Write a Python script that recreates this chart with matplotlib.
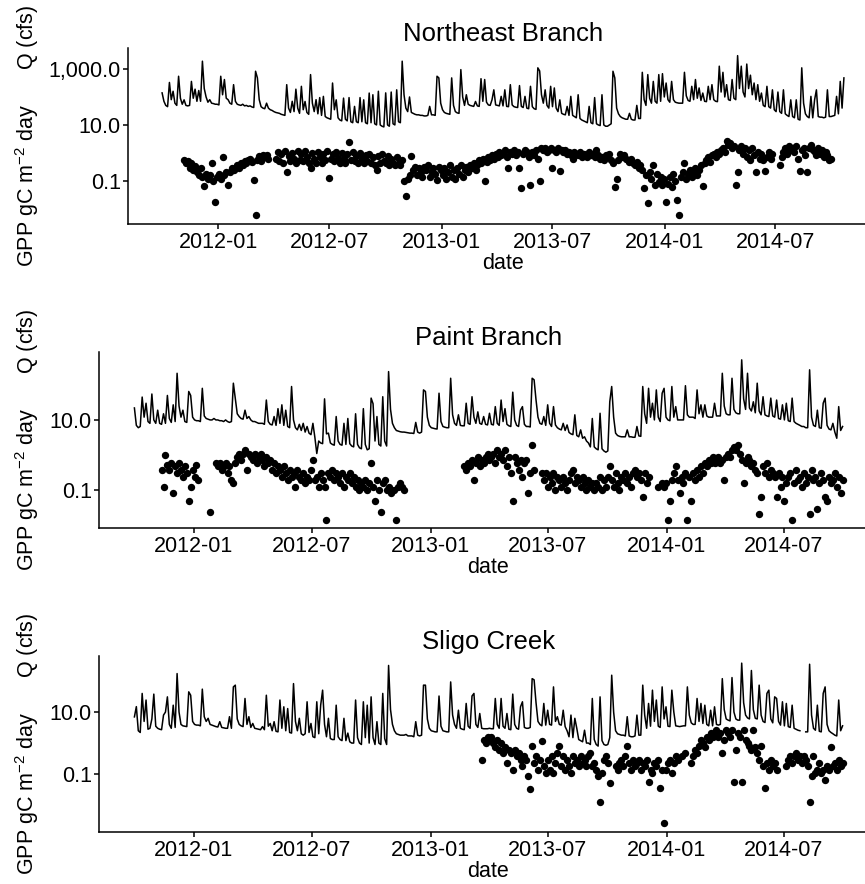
import numpy as np
import pandas as pd
import matplotlib
matplotlib.use("Agg")
import matplotlib.pyplot as plt
import matplotlib.dates as mdates
from matplotlib.ticker import NullLocator

nan = np.nan

# series start and sampling step (values read every 3 days off the figure)
start = "2011-10-01"
step = "3D"

sites = ["Northeast Branch", "Paint Branch", "Sligo Creek"]

# discharge, cfs
ne_q = [
    140, 70, 50, 45, 330, 80, 160, 60, 50, 550,
    90, 55, 79, 50, 48, 50, 360, 90, 190, 70,
    170, 70, 1900, 200, 100, 65, 80, 60, 58, 55,
    55, 52, 550, 120, 420, 90, 80, 60, 55, 275,
    70, 55, 52, 50, 55, 48, 50, 46, 48, 44,
    42, 830, 480, 80, 45, 40, 38, 60, 40, 35,
    33, 30, 28, 27, 26, 24, 23, 22, 275, 40,
    28, 70, 30, 190, 40, 26, 240, 35, 69, 28,
    24, 630, 60, 30, 80, 25, 95, 22, 105, 20,
    18, 17, 16, 315, 35, 79, 18, 15, 14, 91,
    16, 14, 95, 13, 12, 46, 13, 12, 95, 13,
    79, 12, 11, 138, 12, 120, 11, 10, 160, 10,
    9, 8.5, 140, 10, 9, 150, 11, 10, 180, 13,
    12, 1900, 120, 40, 30, 100, 28, 26, 24, 23,
    23, 22, 22, 21, 21, 22, 46, 23, 23, 22,
    550, 480, 60, 35, 28, 26, 25, 24, 480, 50,
    30, 27, 26, 950, 100, 50, 120, 55, 50, 48,
    46, 69, 48, 46, 450, 70, 420, 65, 52, 50,
    79, 180, 52, 50, 48, 105, 48, 180, 46, 45,
    275, 52, 45, 43, 42, 255, 46, 42, 105, 40,
    38, 240, 45, 38, 36, 1100, 850, 120, 60, 180,
    50, 40, 240, 45, 210, 40, 30, 79, 26, 24,
    23, 46, 22, 105, 22, 20, 18, 120, 17, 15,
    14, 13, 12, 46, 12, 11, 95, 11, 10, 9.5,
    120, 10, 9, 9, 10, 11, 830, 480, 40, 25,
    20, 18, 17, 16, 16, 26, 16, 15, 15, 50,
    17, 17, 760, 80, 50, 630, 90, 60, 360, 70,
    60, 630, 70, 680, 100, 315, 80, 65, 360, 80,
    65, 62, 60, 60, 60, 760, 110, 75, 70, 240,
    80, 420, 90, 210, 75, 138, 70, 68, 240, 80,
    275, 80, 70, 68, 1260, 150, 760, 100, 275, 80,
    75, 420, 90, 80, 3000, 200, 1260, 150, 100, 1500,
    200, 600, 120, 315, 80, 275, 70, 138, 50, 45,
    240, 45, 40, 180, 35, 30, 150, 30, 26, 180,
    25, 22, 20, 79, 20, 18, 79, 16, 15, 1100,
    60, 25, 20, 18, 105, 18, 79, 180, 20, 19,
    19, 18, 19, 180, 20, 20, 21, 22, 105, 25,
    360, 40, 480,
]
pb_q = [
    22, 7, 6, 6.5, 45, 12, 30, 9, 8, 55,
    10, 8, 19, 8, 7.5, 15, 8, 50, 11, 8.5,
    27, 9, 215, 25, 12, 19, 9, 8.5, 65, 50,
    12, 10, 9.5, 9.5, 9, 80, 13, 11, 10.5, 10,
    10, 11, 10, 10, 9.5, 9.5, 9, 10, 9, 8.5,
    9, 112, 40, 15, 12.5, 11, 10.5, 19, 11, 12.5,
    10, 9, 9, 8.5, 8, 8, 8, 7.5, 37, 9,
    7.5, 7.2, 12.5, 7, 21, 8, 27, 7, 19, 6.5,
    6, 90, 10, 6, 5.2, 7.5, 5, 8, 4.5, 6.5,
    4.2, 3.8, 8, 3.2, 1.1, 2.5, 2.2, 2.1, 40, 4,
    4.2, 2.2, 2, 1.9, 12.5, 2.5, 2, 1.9, 8, 2,
    11, 2.1, 1.8, 1.7, 15, 2, 1.6, 1.5, 21, 2,
    1.4, 1.5, 42, 29, 2.5, 12.5, 2, 1.8, 46, 2.5,
    1.8, 240, 20, 8, 6, 5, 4.8, 4.6, 4.5, 4.5,
    4.4, 4.3, 4.2, 4.2, 4.1, 8.5, 4.5, 4.2, 4.5, 72,
    65, 12, 7, 6, 5.8, 5.6, 5.5, 58, 9, 6.5,
    6.2, 6, 6, 155, 14, 8, 7, 14, 7, 6.8,
    6.8, 30, 8, 7.5, 46, 12, 8, 17, 8, 7.5,
    12.5, 7.5, 7.2, 15.5, 7.5, 7.2, 24, 8, 7, 37,
    9, 21, 7.5, 6.8, 6.5, 62, 10, 7, 6.5, 19,
    24, 7.5, 6.5, 6.5, 6.3, 155, 140, 37, 12, 8,
    7.5, 12.5, 7, 27, 8, 6.5, 24, 7.2, 6, 5.5,
    5.2, 8, 5, 7.2, 4.4, 4, 3.8, 14, 3.6, 3.3,
    5.2, 3, 3.3, 2.5, 2.2, 1.7, 11, 1.7, 1.5, 1.4,
    15.5, 1.5, 1.3, 1.2, 1.3, 33, 90, 12, 4.2, 3.6,
    3.4, 3.3, 3.3, 3.3, 5.2, 3.3, 3.3, 3.2, 3.2, 6.5,
    3.5, 3.4, 90, 15, 8, 80, 12, 30, 10, 72,
    12, 9, 58, 80, 12, 10, 9.5, 90, 12, 24,
    10, 10, 10, 10, 95, 14, 12, 12, 12, 11,
    72, 15, 27, 12, 27, 13, 12, 12, 12, 30,
    13, 13, 13, 215, 25, 15, 14, 14, 155, 20,
    16, 15, 15, 520, 40, 20, 215, 22, 18, 33,
    16, 112, 18, 14, 46, 14, 13, 12.5, 42, 13,
    12, 37, 11, 10.5, 27, 10, 30, 9.5, 9, 42,
    9, 8, 7.5, 7, 6.5, 6.5, 6, 6, 270, 12,
    7, 6.5, 19, 6, 5.8, 30, 42, 7, 5.5, 5.2,
    8, 4.5, 3.0, 24, 5, 6.5,
]
sc_q = [
    7, 15, 2.5, 2.2, 40, 5, 24.5, 2.8, 3.0, 6,
    38, 3.5, 3.0, 2.8, 2.7, 8, 10, 31, 4, 3,
    16.7, 3.2, 175, 10, 4, 3.6, 3.5, 3.4, 45, 35,
    5, 4, 3.8, 3.8, 3.6, 55, 7.1, 5, 6.3, 4,
    3.8, 3.6, 3.4, 3.3, 4.9, 3.2, 3.1, 3.0, 3.0, 7.1,
    3.0, 65, 74, 6, 4, 3.6, 3.4, 27.5, 4, 7.1,
    3.2, 4.3, 3.0, 2.9, 2.8, 2.7, 3.4, 2.7, 35, 3.5,
    4.3, 2.5, 4.9, 2.4, 2.3, 24.5, 3, 14.8, 2.5, 13,
    2.2, 2.1, 83, 5, 2.5, 6.3, 2.0, 1.8, 2.0, 21.5,
    2.2, 4.3, 1.6, 1.5, 21.5, 2, 16.7, 51, 4, 1.6,
    6.3, 1.4, 1.3, 1.3, 16.7, 1.6, 1.3, 1.2, 6.3, 1.2,
    2.1, 1.1, 1.0, 1.0, 24.5, 1.5, 1.0, 0.9, 21.5, 1.5,
    16.7, 1.0, 31, 1.5, 0.9, 4.9, 1.0, 0.9, 40, 1.4,
    0.9, 320, 12, 4, 2.5, 2.0, 1.9, 1.8, 1.8, 1.8,
    1.9, 1.7, 1.7, 1.7, 1.6, 4.9, 1.8, 1.7, 1.8, 74,
    74, 6, 3, 2.5, 2.4, 2.3, 2.3, 33, 3.5, 2.5,
    2.4, 2.3, 2.3, 94, 8, 4, 3, 11.5, 3, 2.8,
    2.7, 19, 3.5, 3, 33, 40, 4, 3.2, 9, 3.0,
    2.9, 2.9, 2.9, 3.0, 2.9, 2.9, 27.5, 4, 3.0, 27.5,
    3.5, 3.0, 9, 2.8, 2.7, 38, 4, 3, 2.8, 14.8,
    21.5, 3.2, 3.0, 3.0, 3.2, 120, 110, 20, 5, 4,
    3.6, 19, 3.8, 11.5, 4, 3.8, 65, 5, 7.1, 4,
    3.8, 11.5, 3.4, 2.5, 1.6, 8, 1.5, 6.3, 3, 1.3,
    1.2, 1.1, 2.6, 1.0, 1.0, 0.9, 27.5, 1.3, 0.9, 0.8,
    31, 1.2, 0.9, 0.85, 0.9, 1.5, 155, 10, 2.5, 2.0,
    1.9, 1.8, 1.8, 1.7, 7.1, 1.7, 1.6, 1.6, 1.7, 8,
    1.8, 1.8, 74, 8, 3, 19, 3.5, 51, 5, 24.5,
    3.5, 3.2, 65, 6, 14.8, 3.5, 3.4, 51, 10.2, 3.6,
    3.5, 3.4, 3.5, 3.6, 3.6, 65, 8, 4.5, 4, 4,
    27.5, 5, 19, 4.3, 16.7, 4, 3.6, 11.5, 3.6, 14.8,
    4, 3.8, 4, 120, 12, 6, 5.5, 5.2, 130, 10,
    6, 5.5, 5.5, 380, 20, 8, 6.5, 6, 220, 12,
    6.3, 6, 74, 8, 5, 4.6, 40, 51, 6, 4.5,
    31, 27.5, 5, 3.8, 21.5, 3.6, 19, 3.4, 3.2, 16.7,
    3.0, 2.8, 2.6, 2.5, nan, nan, 2.3, 2.3, 350, 8,
    3, 2.6, 16.7, 2.4, 2.3, 40, 65, 4, 2.5, 2.2,
    2.0, 1.8, 1.7, 24.5, 2.5, 3.6,
]

# GPP, gC m-2 day (same 3-day sampling, nan = no estimate)
ne_gpp = [
    nan, nan, nan, nan, nan, nan, nan, nan, nan, nan,
    nan, nan, 0.55, 0.42, 0.5, 0.3, 0.45, 0.24, 0.35, 0.21,
    0.16, 0.28, 0.14, 0.065, 0.18, 0.12, 0.16, 0.42, 0.1, 0.017,
    0.14, 0.18, 0.12, 0.7, 0.16, 0.2, 0.07, 0.21, 0.28, 0.24,
    0.3, 0.36, 0.28, 0.45, 0.36, 0.5, 0.42, 0.55, 0.63, 0.48,
    0.11, 0.006, 0.55, 0.75, 0.5, 0.83, 0.72, 0.85, 0.63, nan,
    nan, nan, 0.6, 1.1, 0.5, 0.9, 0.45, 1.2, 0.2, 0.8,
    0.5, 1.0, 0.6, 0.45, 1.15, 0.55, 0.9, 0.5, 1.2, 0.7,
    0.45, 0.28, 1.0, 0.6, 0.45, 1.1, 0.7, 0.45, 0.95, 0.55,
    1.2, 0.13, 0.6, 0.9, 0.5, 1.1, 0.65, 0.45, 1.0, 0.6,
    0.42, 0.9, 2.5, 0.55, 1.1, 0.5, 0.8, 0.45, 1.0, 0.6,
    0.45, 0.85, 0.5, 0.95, 0.42, 0.7, 0.36, 0.24, 0.8, 0.45,
    0.9, 0.5, 0.42, 0.75, 0.36, 0.6, 0.45, 0.36, 0.7, 0.42,
    0.36, 0.55, 0.1, 0.03, 0.12, 0.16, 0.8, 0.24, 0.32, 0.16,
    0.28, 0.21, 0.14, 0.32, 0.24, 0.36, 0.14, 0.21, 0.28, 0.18,
    0.11, 0.32, 0.24, 0.16, 0.28, 0.12, 0.21, 0.36, 0.14, 0.24,
    0.12, 0.28, 0.18, 0.36, 0.14, 0.24, 0.32, 0.21, 0.36, 0.28,
    0.42, 0.24, 0.36, 0.55, 0.42, 0.63, 0.1, 0.48, 0.72, 0.55,
    0.83, 0.63, 0.95, 0.72, 1.1, 0.83, 0.95, 1.26, 0.72, 0.3,
    1.1, 0.95, 1.26, 0.83, 1.1, 0.3, 0.055, 0.95, 1.26, 1.1,
    0.72, 0.07, 1.1, 0.83, 1.26, 0.63, 0.1, 1.45, 1.26, 1.45,
    1.1, 1.26, 1.45, 0.3, 1.26, 1.1, 1.45, 0.22, 1.26, 1.1,
    1.26, 0.95, 1.1, 0.83, 0.63, 1.1, 0.95, 0.83, 1.1, 0.72,
    0.95, 0.83, 0.72, 1.1, 0.83, 0.95, 0.72, 1.26, 0.83, 0.63,
    0.72, 0.55, 0.83, 0.72, 0.95, 0.55, 0.42, 0.063, 0.12, 0.55,
    0.95, 0.72, 0.83, 0.63, 0.55, 0.48, 0.63, 0.42, 0.36, 0.48,
    0.28, 0.36, 0.24, 0.055, 0.16, 0.016, 0.21, 0.12, 0.36, 0.07,
    0.18, 0.09, 0.14, 0.07, 0.12, 0.017, 0.08, 0.14, 0.06, 0.18,
    0.1, 0.02, 0.006, 0.14, 0.21, 0.45, 0.12, 0.18, 0.24, 0.14,
    0.21, 0.28, 0.16, 0.24, 0.36, 0.065, 0.42, 0.55, 0.72, 0.48,
    0.83, 0.95, 0.72, 1.1, 0.95, 1.26, 1.45, 1.1, 2.7, 1.9,
    2.2, 1.45, 1.7, 0.07, 0.2, 1.26, 1.7, 0.95, 1.45, 0.72,
    1.26, 0.55, 1.45, 0.83, 0.2, 1.1, 0.63, 0.95, 0.55, 0.22,
    0.72, 1.1, 0.63, 0.95, nan, nan, nan, 0.36, 0.72, 1.1,
    1.45, 0.95, 1.7, 1.26, 1.45, 1.1, 1.7, 0.63, 0.22, 1.26,
    1.45, 0.83, 0.2, 1.45, 1.9, 1.26, 1.1, 0.83, 1.45, 0.95,
    1.26, 0.72, 1.1, 0.83, 0.55, 0.63, nan, nan, nan, nan,
    nan, nan, nan,
]
pb_gpp = [
    nan, nan, nan, nan, nan, nan, nan, nan, nan, nan,
    nan, nan, nan, nan, 0.37, 0.12, 1.0, 0.5, 0.37, 0.58,
    0.08, 0.47, 0.3, 0.58, 0.37, 0.24, 0.47, 0.3, 0.047, 0.125,
    0.37, 0.24, 0.5, 0.19, nan, nan, nan, nan, nan, 0.023,
    nan, nan, 0.58, 0.47, 0.58, 0.37, 0.47, 0.58, 0.3, 0.47,
    0.19, 0.155, 0.58, 0.9, 1.1, 0.72, 1.1, 1.4, 0.37, 1.1,
    0.9, 0.72, 1.1, 0.58, 0.9, 1.1, 0.72, 0.47, 0.9, 0.58,
    0.72, 0.37, 0.58, 0.3, 0.47, 0.37, 0.24, 0.47, 0.3, 0.19,
    0.37, 0.24, 0.3, 0.125, 0.37, 0.24, 0.19, 0.3, 0.155, 0.24,
    0.19, 0.37, 0.72, 0.19, 0.24, 0.125, 0.3, 0.19, 0.12, 0.014,
    0.3, 0.24, 0.37, 0.19, 0.3, 0.24, 0.155, 0.3, 0.12, 0.24,
    0.19, 0.3, 0.155, 0.24, 0.125, 0.19, 0.1, 0.155, 0.125, 0.19,
    0.1, 0.155, 0.6, 0.125, 0.05, 0.19, 0.1, 0.023, 0.155, 0.19,
    0.1, 0.125, 0.08, nan, 0.1, 0.014, 0.12, 0.155, 0.12, 0.1,
    nan, nan, nan, nan, nan, nan, nan, nan, nan, nan,
    nan, nan, nan, nan, nan, nan, nan, nan, nan, nan,
    nan, nan, nan, nan, nan, nan, nan, nan, nan, nan,
    0.47, 0.37, 0.58, 0.47, 0.72, 0.19, 0.58, 0.9, 0.47, 0.72,
    0.58, 0.9, 1.1, 0.72, 0.9, 1.1, 0.58, 1.4, 0.9, 1.1,
    0.72, 1.4, 0.47, 0.9, 0.3, 0.05, 0.9, 0.58, 0.37, 0.72,
    0.24, 0.58, 0.72, 0.08, 0.3, 1.9, 0.37, nan, nan, nan,
    0.3, 0.19, 0.3, 0.125, 0.24, 0.155, 0.3, 0.1, 0.24, 0.19,
    0.125, 0.24, 0.155, 0.1, 0.19, 0.3, 0.37, 0.155, 0.24, 0.19,
    0.125, 0.24, 0.155, 0.1, 0.19, 0.125, 0.155, 0.1, 0.155, 0.125,
    0.24, 0.1, 0.19, 0.125, 0.24, 0.47, 0.19, 0.125, 0.3, 0.155,
    0.1, 0.24, 0.19, 0.3, 0.155, 0.24, 0.125, 0.3, 0.37, 0.24,
    0.3, 0.19, 0.065, 0.3, 0.155, 0.24, nan, nan, nan, nan,
    0.125, nan, 0.155, 0.125, 0.155, 0.014, 0.047, 0.19, 0.3, 0.47,
    0.19, 0.08, 0.24, 0.155, 0.3, 0.014, 0.24, 0.05, 0.3, 0.19,
    0.37, 0.24, 0.47, 0.3, 0.58, 0.47, 0.72, 0.58, 0.9, 0.58,
    0.72, 0.9, 0.58, 0.72, 0.19, 0.9, 1.1, 0.9, 1.4, 1.7,
    1.4, 1.9, 1.1, 0.72, 0.155, 0.58, 0.9, 0.72, 0.47, 0.58,
    0.37, 0.3, 0.02, 0.065, 0.47, 0.3, 0.58, 0.24, 0.37, 0.3,
    0.24, 0.065, 0.3, 0.125, 0.24, 0.047, 0.155, 0.24, 0.3, 0.014,
    0.155, 0.37, 0.19, 0.24, 0.125, 0.3, 0.155, 0.24, 0.02, 0.37,
    0.19, 0.24, 0.028, 0.155, 0.3, 0.19, 0.065, 0.047, 0.24, 0.155,
    0.19, 0.3, 0.125, 0.24, 0.08, 0.19,
]
sc_gpp = [nan] * 179 + [
    0.29, 1.26, 1.0, 1.6, 1.26, 1.6, 1.0, 0.77, 1.26, 0.6, 1.0,
    0.47, 0.77, 0.23, 0.6, 0.47, 0.14, 0.6, 0.37, 0.47, 0.29,
    0.18, 0.37, 0.29, 0.085, 0.032, 0.8, 0.23, 0.37, 0.14, 0.29,
    1.2, 0.18, 0.107, 0.29, 0.14, 0.37, 0.107, 0.23, 0.47, 0.8,
    0.18, 0.37, 0.14, 0.29, 0.18, 0.107, 0.37, 0.23, 0.29, 0.18,
    0.37, 0.23, 0.29, 0.18, 0.37, 0.47, 0.18, 0.23, 0.14, 0.085,
    0.013, 0.107, 0.29, 0.37, 0.23, 0.052, nan, nan, 0.18, 0.14,
    0.23, 0.29, 0.18, 0.37, 0.8, 0.23, 0.14, 0.29, 0.18, 0.23,
    0.29, 0.14, 0.23, 0.18, 0.29, 0.055, 0.14, 0.107, 0.23, 0.18,
    0.29, 0.036, 0.14, 0.0027, 0.14, 0.23, 0.29, 0.107, 0.23, 0.37,
    0.29, nan, 0.37, nan, 0.47, nan, nan, 0.23, 0.37, 0.6,
    0.47, 0.8, 1.26, 1.0, 0.77, 1.6, 1.26, 2.1, 1.6, 2.1,
    2.6, 1.6, 2.1, 0.47, 1.26, 2.6, 2.1, 1.6, 2.6, 0.055,
    0.6, 2.1, 1.6, 0.055, 2.6, 1.26, 1.0, 0.8, 0.6, 2.6,
    0.77, 0.47, 0.29, 0.8, 0.18, 0.036, 0.23, 0.14, 0.29, 0.18,
    0.23, 0.14, nan, nan, nan, nan, 0.18, 0.29, 0.37, 0.23,
    0.37, 0.47, 0.29, 0.37, 0.23, 0.37, 0.29, 0.18, 0.013, 0.085,
    0.37, 0.107, 0.14, 0.23, 0.107, 0.14, 0.066, 0.18, 0.14, 0.77,
    0.18, 0.23, 0.14, 0.29, 0.18, 0.23,
]

q_series = [ne_q, pb_q, sc_q]
gpp_series = [ne_gpp, pb_gpp, sc_gpp]

ytick_vals = [[0.1, 10, 1000], [0.1, 10], [0.1, 10]]
ytick_labels = [["0.1", "10.0", "1,000.0"], ["0.1", "10.0"], ["0.1", "10.0"]]
ylab = "GPP gC m$^{-2}$ day      Q (cfs)"

plt.rcParams["font.family"] = "Liberation Sans"
plt.rcParams["mathtext.fontset"] = "custom"
plt.rcParams["mathtext.rm"] = "Liberation Sans"
plt.rcParams["mathtext.it"] = "Liberation Sans:italic"
plt.rcParams["mathtext.default"] = "regular"

W, H = 865.0, 884.0
fig = plt.figure(figsize=(W / 100, H / 100), dpi=100)

# panel boxes in pixels (left, top, right, bottom); right edge runs past the
# image like in the original, which was cropped
boxes = [(128, 48, 878, 224), (99, 352, 878, 528), (99, 656, 878, 832)]
ylims = [(10 ** -2.54, 10 ** 3.75), (10 ** -2.086, 10 ** 2.94), (10 ** -2.87, 10 ** 2.81)]
fs = 15.5

for k in range(3):
    l, t, r, b = boxes[k]
    ax = fig.add_axes([l / W, 1 - b / H, (r - l) / W, (b - t) / H])
    q = np.array(q_series[k], dtype=float)
    g = np.array(gpp_series[k], dtype=float)
    dq = pd.date_range(start, periods=len(q), freq=step)
    dg = pd.date_range(start, periods=len(g), freq=step)

    ax.plot(dq, q, color="black", lw=1.1)
    ax.plot(dg, g, "o", color="black", ms=5.3, mew=0)

    ax.set_yscale("log")
    ax.set_ylim(*ylims[k])
    ax.set_yticks(ytick_vals[k])
    ax.set_yticklabels(ytick_labels[k])
    ax.yaxis.set_minor_locator(NullLocator())

    span = dq[-1] - dq[0]
    ax.set_xlim(dq[0] - 0.05 * span, dq[-1] + 0.05 * span)
    ax.xaxis.set_major_locator(mdates.MonthLocator(bymonth=[1, 7]))
    ax.xaxis.set_major_formatter(mdates.DateFormatter("%Y-%m"))

    for side in ["top", "right"]:
        ax.spines[side].set_visible(False)
    for side in ["left", "bottom"]:
        ax.spines[side].set_linewidth(1.1)
        ax.spines[side].set_color("black")
    ax.tick_params(axis="both", length=3.6, width=1.1, color="black",
                   labelsize=fs, labelcolor="black")
    ax.tick_params(axis="x", pad=2.5)
    ax.tick_params(axis="y", pad=1.5)

    ax.set_title(sites[k], fontsize=18.5, pad=5)
    ax.set_xlabel("date", fontsize=fs, labelpad=0)
    fig.text(27 / W, 1 - (t + b) / 2 / H, ylab, rotation=90,
             ha="center", va="center", fontsize=fs)

fig.savefig("out.png", dpi=100)
